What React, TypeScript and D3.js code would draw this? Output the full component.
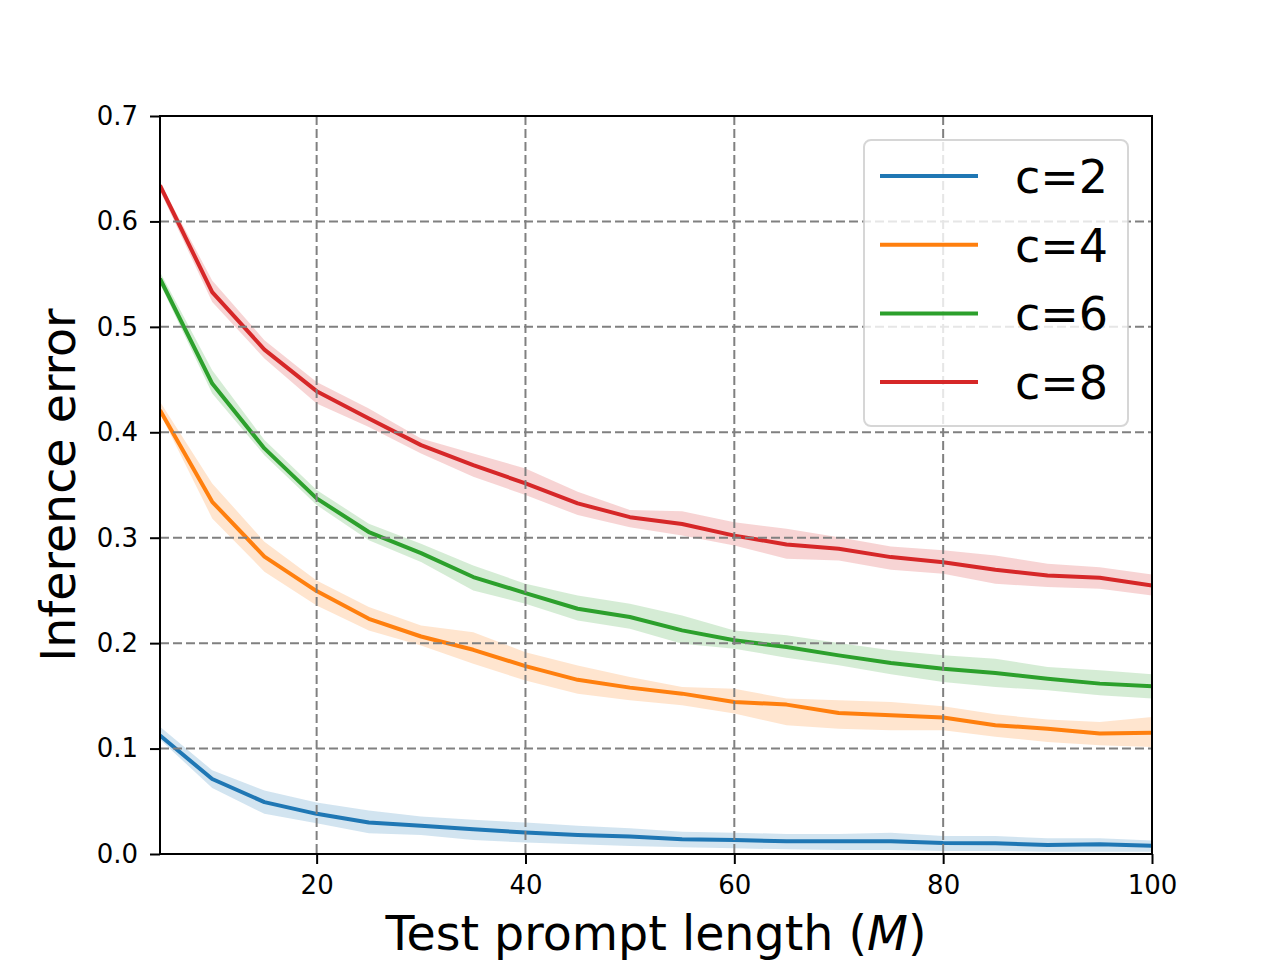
import { useEffect, useRef } from 'react';
import * as d3 from 'd3';

// Test prompt lengths (M)
const promptLengths = [5, 10, 15, 20, 25, 30, 35, 40, 45, 50, 55, 60, 65, 70, 75, 80, 85, 90, 95, 100];

const seriesNames = ['c=2', 'c=4', 'c=6', 'c=8'];
const seriesColors = ['#1f77b4', '#ff7f0e', '#2ca02c', '#d62728'];

// mean inference error per series
const meanC2 = [0.1124, 0.0711, 0.0492, 0.0381, 0.0298, 0.0267, 0.0235, 0.0203, 0.0181, 0.0165, 0.0139, 0.0133, 0.012, 0.012, 0.012, 0.0104, 0.0101, 0.0085, 0.0092, 0.0079];
const meanC4 = [0.421, 0.3341, 0.2821, 0.2494, 0.2231, 0.2063, 0.1937, 0.1782, 0.1652, 0.1578, 0.1521, 0.1442, 0.1417, 0.1338, 0.1316, 0.1294, 0.1221, 0.1189, 0.1142, 0.1149];
const meanC6 = [0.5457, 0.4462, 0.3847, 0.3373, 0.3054, 0.2854, 0.2627, 0.2475, 0.2326, 0.2248, 0.2121, 0.2027, 0.1963, 0.1884, 0.1812, 0.1758, 0.1717, 0.1663, 0.1616, 0.159];
const meanC8 = [0.6341, 0.533, 0.4784, 0.439, 0.4131, 0.3878, 0.3689, 0.3515, 0.3326, 0.3195, 0.313, 0.302, 0.2936, 0.2895, 0.2816, 0.2768, 0.2696, 0.2642, 0.262, 0.2547];

// upper / lower edges of the shaded bands
const upperC2 = [0.1206, 0.0794, 0.0603, 0.0489, 0.0413, 0.0356, 0.0324, 0.0298, 0.0267, 0.0244, 0.0212, 0.0202, 0.019, 0.019, 0.0202, 0.0171, 0.0171, 0.0149, 0.0149, 0.0127];
const lowerC2 = [0.1086, 0.0625, 0.0381, 0.0292, 0.0197, 0.0181, 0.0133, 0.0108, 0.0092, 0.0076, 0.0063, 0.0054, 0.0044, 0.0038, 0.0038, 0.0028, 0.0028, 0.0022, 0.0022, 0.0022];
const upperC4 = [0.4289, 0.3515, 0.2962, 0.2595, 0.2342, 0.2168, 0.2104, 0.1914, 0.1788, 0.1679, 0.1584, 0.1568, 0.1474, 0.1458, 0.1442, 0.1401, 0.1325, 0.1275, 0.1253, 0.13];
const lowerC4 = [0.4178, 0.3183, 0.2678, 0.2358, 0.212, 0.1978, 0.1804, 0.1646, 0.1519, 0.1458, 0.141, 0.1332, 0.1221, 0.1189, 0.1174, 0.1174, 0.1111, 0.1063, 0.1032, 0.1016];
const upperC6 = [0.552, 0.4589, 0.3926, 0.3452, 0.3133, 0.2943, 0.2737, 0.2563, 0.2453, 0.2374, 0.2263, 0.2121, 0.2074, 0.2001, 0.1932, 0.1884, 0.1853, 0.1774, 0.1742, 0.1704];
const lowerC6 = [0.541, 0.4368, 0.3783, 0.331, 0.2975, 0.2769, 0.25, 0.2373, 0.2215, 0.2137, 0.1995, 0.1948, 0.1862, 0.179, 0.1704, 0.1632, 0.1584, 0.1553, 0.1505, 0.1474];
const upperC8 = [0.637, 0.544, 0.4873, 0.4478, 0.4225, 0.3941, 0.3799, 0.3657, 0.3436, 0.3264, 0.325, 0.3147, 0.3084, 0.3005, 0.2917, 0.288, 0.2832, 0.2753, 0.2721, 0.2652];
const lowerC8 = [0.629, 0.5236, 0.47, 0.4273, 0.405, 0.3799, 0.3578, 0.3405, 0.3215, 0.31, 0.302, 0.2926, 0.28, 0.2784, 0.2696, 0.2658, 0.2563, 0.2532, 0.2516, 0.2453];

const xTicks = [20, 40, 60, 80, 100];
const yTicks = [0, 0.1, 0.2, 0.3, 0.4, 0.5, 0.6, 0.7];

const FONT = '"DejaVu Sans", sans-serif';

const App = () => {
    const svgRef = useRef<SVGSVGElement>(null);

    useEffect(() => {
        if (!svgRef.current) return;
        document.body.style.margin = '0';

        const svg = d3.select(svgRef.current);
        svg.selectAll('*').remove();

        const margin = { top: 116, right: 128, bottom: 106, left: 160 };
        const width = 1280 - margin.left - margin.right;
        const height = 960 - margin.top - margin.bottom;

        const g = svg.append('g')
            .attr('transform', `translate(${margin.left},${margin.top})`);

        const xScale = d3.scaleLinear().domain([5, 100]).range([0, width]);
        const yScale = d3.scaleLinear().domain([0, 0.7]).range([height, 0]);

        svg.append('defs').append('clipPath')
            .attr('id', 'plot-clip')
            .append('rect')
            .attr('width', width)
            .attr('height', height);

        const means = [meanC2, meanC4, meanC6, meanC8];
        const uppers = [upperC2, upperC4, upperC6, upperC8];
        const lowers = [lowerC2, lowerC4, lowerC6, lowerC8];

        const plot = g.append('g').attr('clip-path', 'url(#plot-clip)');

        const area = d3.area<number>()
            .x(i => xScale(promptLengths[i]));
        const line = d3.line<number>()
            .x(i => xScale(promptLengths[i]));
        const idx = d3.range(promptLengths.length);

        // shaded bands first, then mean lines
        means.forEach((m, s) => {
            plot.append('path')
                .datum(idx)
                .attr('d', area.y0(i => yScale(lowers[s][i])).y1(i => yScale(uppers[s][i])))
                .attr('fill', seriesColors[s])
                .attr('fill-opacity', 0.2)
                .attr('stroke', 'none');
        });
        means.forEach((m, s) => {
            plot.append('path')
                .datum(idx)
                .attr('d', line.y(i => yScale(m[i])))
                .attr('fill', 'none')
                .attr('stroke', seriesColors[s])
                .attr('stroke-width', 4)
                .attr('stroke-linejoin', 'round');
        });

        // dashed grid on top of the lines
        const grid = g.append('g')
            .attr('stroke', '#808080')
            .attr('stroke-width', 2)
            .attr('stroke-dasharray', '9,4');
        grid.selectAll('line.gx')
            .data(xTicks.filter(t => t < 100))
            .join('line')
            .attr('x1', d => xScale(d))
            .attr('x2', d => xScale(d))
            .attr('y1', 0)
            .attr('y2', height);
        grid.selectAll('line.gy')
            .data(yTicks.filter(t => t > 0 && t < 0.7))
            .join('line')
            .attr('x1', 0)
            .attr('x2', width)
            .attr('y1', d => yScale(d))
            .attr('y2', d => yScale(d));

        // axes
        const xAxis = g.append('g')
            .attr('transform', `translate(0,${height})`)
            .call(d3.axisBottom(xScale).tickValues(xTicks).tickSize(10).tickPadding(12).tickFormat(d3.format('d')));
        const yAxis = g.append('g')
            .call(d3.axisLeft(yScale).tickValues(yTicks).tickSize(10).tickPadding(12).tickFormat(d3.format('.1f')));

        [xAxis, yAxis].forEach(ax => {
            ax.select('.domain').remove();
            ax.selectAll('line').attr('stroke', '#000').attr('stroke-width', 2);
            ax.selectAll('text')
                .attr('fill', '#000')
                .style('font-family', FONT)
                .style('font-size', '26px');
        });

        // spines
        g.append('rect')
            .attr('width', width)
            .attr('height', height)
            .attr('fill', 'none')
            .attr('stroke', '#000')
            .attr('stroke-width', 2);

        // axis labels
        const xLabel = g.append('text')
            .attr('x', width / 2)
            .attr('y', height + 96)
            .attr('text-anchor', 'middle')
            .style('font-family', FONT)
            .style('font-size', '47.5px');
        xLabel.append('tspan').text('Test prompt length (');
        xLabel.append('tspan').style('font-style', 'italic').text('M');
        xLabel.append('tspan').text(')');

        g.append('text')
            .attr('transform', 'rotate(-90)')
            .attr('x', -height / 2)
            .attr('y', -85)
            .attr('text-anchor', 'middle')
            .style('font-family', FONT)
            .style('font-size', '47.5px')
            .text('Inference error');

        // legend
        const legend = svg.append('g').attr('transform', 'translate(864,140)');
        legend.append('rect')
            .attr('width', 264)
            .attr('height', 286)
            .attr('rx', 7)
            .attr('fill', 'white')
            .attr('fill-opacity', 0.8)
            .attr('stroke', '#cccccc')
            .attr('stroke-opacity', 0.8)
            .attr('stroke-width', 2);
        seriesNames.forEach((name, s) => {
            const y = 36 + s * 68.7;
            legend.append('line')
                .attr('x1', 16)
                .attr('x2', 114)
                .attr('y1', y)
                .attr('y2', y)
                .attr('stroke', seriesColors[s])
                .attr('stroke-width', 4);
            legend.append('text')
                .attr('x', 151)
                .attr('y', y + 17)
                .style('font-family', FONT)
                .style('font-size', '46px')
                .text(name);
        });
    }, []);

    return (
        <div>
            <svg ref={svgRef} width={1280} height={960} style={{ display: 'block' }}></svg>
        </div>
    );
};

export default App;
